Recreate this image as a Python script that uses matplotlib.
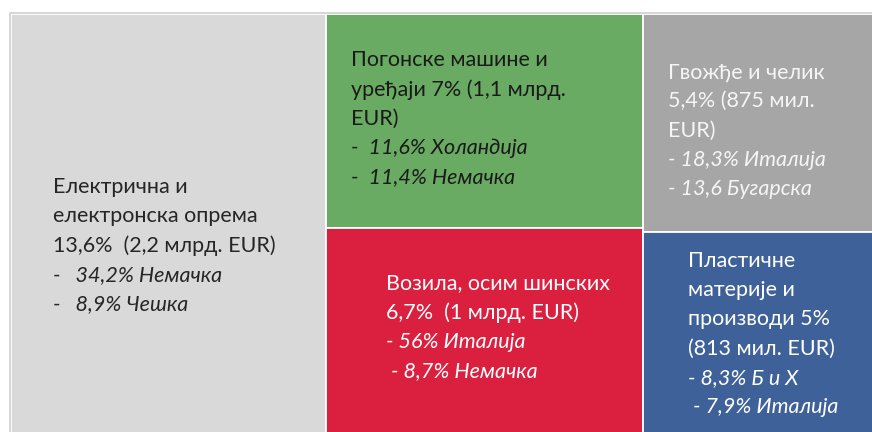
"""Treemap of export product groups (Serbian labels)."""

import matplotlib

matplotlib.use("Agg")
import matplotlib.pyplot as plt
from matplotlib.patches import Rectangle

# shares in %, grouped by treemap column
COLUMNS = [
    ["electro"],
    ["machines", "vehicles"],
    ["iron", "plastics"],
]
SHARES = {
    "electro": 13.6,
    "machines": 7.0,
    "vehicles": 6.7,
    "iron": 5.4,
    "plastics": 5.0,
}
TITLES = {
    "electro": ["Електрична и", "електронска опрема", "13,6%  (2,2 млрд. EUR)"],
    "machines": ["Погонске машине и", "уређаји 7% (1,1 млрд.", "EUR)"],
    "vehicles": ["Возила, осим шинских", "6,7%  (1 млрд. EUR)"],
    "iron": ["Гвожђе и челик", "5,4% (875 мил.", "EUR)"],
    "plastics": ["Пластичне", "материје и", "производи 5%", "(813 мил. EUR)"],
}
PARTNERS = {
    "electro": ["-   34,2% Немачка", "-   8,9% Чешка"],
    "machines": ["-  11,6% Холандија", "-  11,4% Немачка"],
    "vehicles": ["- 56% Италија", " - 8,7% Немачка"],
    "iron": ["- 18,3% Италија", "- 13,6 Бугарска"],
    "plastics": ["- 8,3% Б и Х", " - 7,9% Италија"],
}

COLORS = {
    "electro": "#d9d9d9",
    "machines": "#6aab63",
    "vehicles": "#db1f3e",
    "iron": "#a6a6a6",
    "plastics": "#3d6198",
}
TEXT_COLORS = {
    "electro": "#262626",
    "machines": "#1a1a1a",
    "vehicles": "white",
    "iron": "#f5f5f5",
    "plastics": "white",
}
# label offset from the box's top-left corner, in pixels
LABEL_OFFSET = {
    "electro": (42, 173),
    "machines": (25, 46),
    "iron": (25, 58),
    "vehicles": (60, 55),
    "plastics": (45, 29),
}
LINE_STEP = 29.3

plt.rcParams["font.family"] = ["Lato", "DejaVu Sans"]

W, H = 872, 432
fig = plt.figure(figsize=(W / 100, H / 100), dpi=100)
# the chart runs past the right and bottom edges of the picture
ax = fig.add_axes([11 / W, 1 - 433 / H, 873 / W, 419 / H])
total = sum(SHARES.values())
ax.set_xlim(0, total)
ax.set_ylim(1, 0)
ax.axis("off")

x = 0.0
for column in COLUMNS:
    col_sum = sum(SHARES[k] for k in column)
    y = 0.0
    for key in column:
        h = SHARES[key] / col_sum
        ax.add_patch(Rectangle((x, y), col_sum, h, facecolor=COLORS[key],
                               edgecolor="white", linewidth=1.3))
        dx, dy = LABEL_OFFSET[key]
        lines = [(t, "normal") for t in TITLES[key]] + [(t, "italic") for t in PARTNERS[key]]
        for i, (text, style) in enumerate(lines):
            ax.annotate(text, xy=(x, y), xycoords="data",
                        xytext=(dx, -dy - i * LINE_STEP), textcoords="offset pixels",
                        ha="left", va="center", fontsize=15.5, style=style,
                        color=TEXT_COLORS[key], annotation_clip=False)
        y += h
    x += col_sum

fig.add_artist(Rectangle((10 / W, -0.01), 1.0, 1 - 12.5 / H + 0.01,
                         transform=fig.transFigure, fill=False,
                         edgecolor="#d0d0d0", linewidth=1.2))

fig.savefig("out.png", dpi=100, facecolor="white")
